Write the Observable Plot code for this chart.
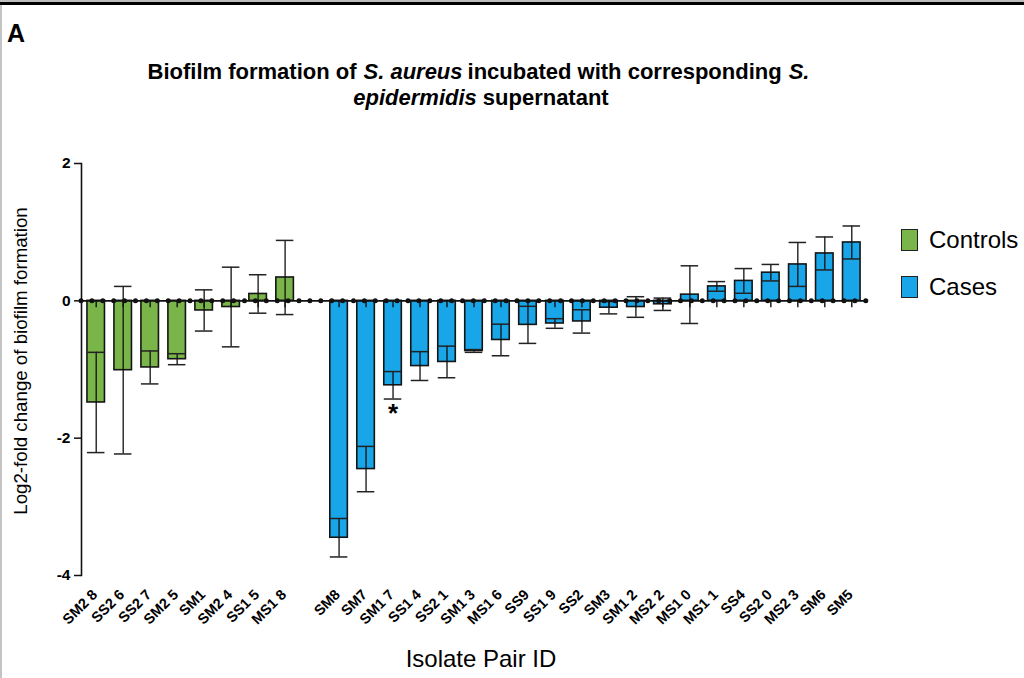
<!DOCTYPE html>
<html>
<head>
<meta charset="utf-8">
<script src="https://cdn.jsdelivr.net/npm/d3@7"></script>
<script src="https://cdn.jsdelivr.net/npm/@observablehq/plot@0.6"></script>
<style>
  html, body { margin: 0; padding: 0; background: #fff; }
  #fig { position: relative; width: 1024px; height: 678px; overflow: hidden; background: #fff;
         font-family: "Liberation Sans", Arial, sans-serif; color: #000; }
  #chart { position: absolute; left: 0; top: 0; }
  .topline { position: absolute; left: 0; top: 2px; width: 1024px; height: 3px; background: #000; }
  .topgray { position: absolute; left: 0; top: 0; width: 1024px; height: 2px; background: #bdbdbd; }
  .leftline { position: absolute; left: 0; top: 5px; width: 2px; height: 673px; background: #c4c4c4; }
  .panel { position: absolute; left: 7px; top: 21px; font-size: 25px; line-height: 25px; font-weight: bold; }
  .tline { position: absolute; left: 0; width: 962px; text-align: center; font-size: 22px;
           line-height: 24px; font-weight: bold; white-space: nowrap; }
  .tline span { display: inline-block; }
  .tline span.it { font-style: italic; margin: 0 5px 0 7px; }
  .tline span.it.first { margin: 0 6px 0 0; }
  .xtitle { position: absolute; left: 0; width: 962px; top: 647px; text-align: center; font-size: 24px; line-height: 24px; }
  .ytitle { position: absolute; left: 20px; top: 361px; font-size: 18.7px; line-height: 19px; white-space: nowrap;
            transform: translate(-50%, -50%) rotate(-90deg); }
  .leg { position: absolute; left: 901px; font-size: 24px; line-height: 24px; white-space: nowrap; }
  .leg span.sw { display: inline-block; width: 15px; height: 20px; border: 1.5px solid #222; vertical-align: top; margin-right: 11px; margin-top: 1px; }
</style>
</head>
<body>
<div id="fig">
  <div id="chart"></div>
  <div class="topgray"></div>
  <div class="topline"></div>
  <div class="leftline"></div>
  <div class="panel">A</div>
  <div class="tline" style="top:60px"><span>Biofilm formation of</span><span class="it">S. aureus</span><span>incubated with corresponding</span><span class="it">S.</span></div>
  <div class="tline" style="top:86px"><span class="it first">epidermidis</span><span>supernatant</span></div>
  <div id="legend"></div>
  <div class="xtitle">Isolate Pair ID</div>
  <div class="ytitle">Log2-fold change of biofilm formation</div>
</div>
<script>
// ---- data ----
const groups = ["Controls", "Cases"];
const groupColors = ["#7ab54a", "#18a6e9"];

const controlNames = ["SM2 8", "SS2 6", "SS2 7", "SM2 5", "SM1", "SM2 4", "SS1 5", "MS1 8"];
const controlMeans = [-1.48, -1.01, -0.97, -0.85, -0.14, -0.09, 0.10, 0.34];
const controlSD    = [0.73, 1.22, 0.24, 0.08, 0.30, 0.58, 0.28, 0.54];

const caseNames = ["SM8", "SM7", "SM1 7", "SS1 4", "SS2 1", "SM1 3", "MS1 6", "SS9", "SS1 9", "SS2",
                   "SM3", "SM1 2", "MS2 2", "MS1 0", "MS1 1", "SS4", "SS2 0", "MS2 3", "SM6", "SM5"];
const caseMeans = [-3.45, -2.45, -1.23, -0.95, -0.89, -0.73, -0.57, -0.35, -0.33, -0.30,
                   -0.10, -0.09, -0.05, 0.09, 0.21, 0.29, 0.41, 0.53, 0.69, 0.85];
const caseSD    = [0.28, 0.33, 0.20, 0.21, 0.23, 0.02, 0.23, 0.27, 0.07, 0.17,
                   0.09, 0.15, 0.09, 0.42, 0.07, 0.18, 0.12, 0.32, 0.24, 0.24];

const significant = ["SM1 7"];
const sigSymbol = "*";
const gapKey = "__gap__";
const yTicks = [-4, -2, 0, 2];

// ---- build ----
const rows = [
  ...controlNames.map((n, i) => ({id: "c" + i, label: n, group: "Controls", mean: controlMeans[i], sd: controlSD[i]})),
  ...caseNames.map((n, i) => ({id: "k" + i, label: n, group: "Cases", mean: caseMeans[i], sd: caseSD[i]}))
];
const domain = [...rows.filter(r => r.group === "Controls").map(r => r.id), gapKey,
                ...rows.filter(r => r.group === "Cases").map(r => r.id)];
const sigRows = rows.filter(r => significant.includes(r.label));

const chart = Plot.plot({
  width: 1024,
  height: 678,
  marginLeft: 81,
  marginRight: 158,
  marginTop: 163,
  marginBottom: 103,
  style: {background: "transparent", fontFamily: "'Liberation Sans', Arial, sans-serif", overflow: "visible", color: "#000"},
  x: {type: "band", domain, paddingInner: 0.35, paddingOuter: 0.22, round: false, axis: null},
  y: {domain: [-4, 2], axis: null},
  color: {domain: groups, range: groupColors},
  marks: [
    Plot.barY(rows, {x: "id", y1: 0, y2: "mean", fill: "group", stroke: "#151515", strokeWidth: 1.6}),
    Plot.ruleX(rows, {x: "id", y1: d => d.mean - d.sd, y2: d => d.mean + d.sd, stroke: "#111", strokeWidth: 1.3}),
    Plot.tickY(rows, {x: "id", y: d => d.mean - d.sd, stroke: "#222", strokeWidth: 1.5}),
    Plot.tickY(rows, {x: "id", y: d => d.mean + d.sd, stroke: "#222", strokeWidth: 1.5}),
    // x axis ticks at y = 0
    Plot.ruleX(rows, {x: "id", y1: 0, y2: 0, insetBottom: -7, stroke: "#111", strokeWidth: 1.4}),
    // dotted baseline
    Plot.ruleY([0], {stroke: "#111", strokeWidth: 1.6}),
    Plot.ruleY([0], {stroke: "#111", strokeWidth: 5, strokeDasharray: "0 10.9", strokeLinecap: "round"}),
    // y axis
    Plot.frame({anchor: "left", stroke: "#111", strokeWidth: 1.6}),
    Plot.axisY({ticks: yTicks, tickSize: 7, tickPadding: 4, tickFormat: d => String(d), fontSize: 15.5,
                fontWeight: "bold", stroke: "#111", strokeWidth: 1.5, label: null}),
    // x tick labels
    Plot.text(rows, {x: "id", text: "label", frameAnchor: "bottom", dy: 20, dx: 2, rotate: -45,
                     textAnchor: "end", fontSize: 14.5, fontWeight: "bold", fill: "#000",
                     letterSpacing: "-1px"}),
    // significance marker
    Plot.text(sigRows, {x: "id", y: d => d.mean - d.sd, text: () => sigSymbol, dy: 15, fontSize: 26,
                        fontWeight: "bold", fill: "#000"})
  ]
});
document.getElementById("chart").appendChild(chart);

// legend
const leg = document.getElementById("legend");
const legTops = [228, 275];
groups.forEach((g, i) => {
  const div = document.createElement("div");
  div.className = "leg";
  div.style.top = legTops[i] + "px";
  const sw = document.createElement("span");
  sw.className = "sw";
  sw.style.background = groupColors[i];
  div.appendChild(sw);
  div.appendChild(document.createTextNode(g));
  leg.appendChild(div);
});
</script>
</body>
</html>
